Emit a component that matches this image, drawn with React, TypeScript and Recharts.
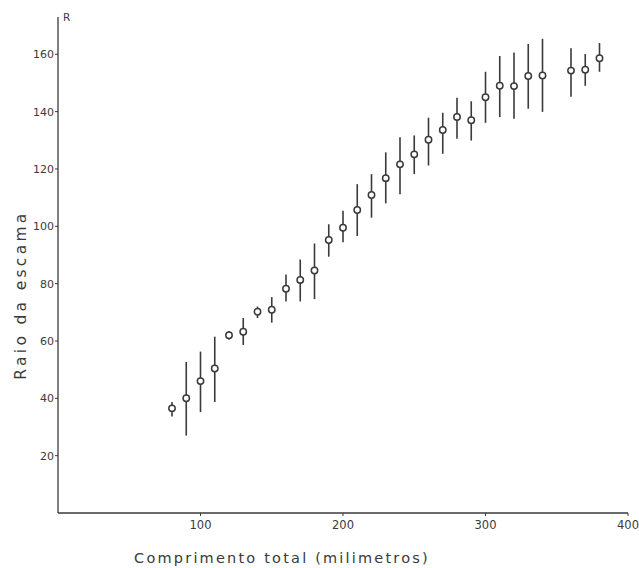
import React from 'react';
import { ComposedChart, Scatter, XAxis, YAxis, ErrorBar } from 'recharts';

const lengths = [80, 90, 100, 110, 120, 130, 140, 150, 160, 170, 180, 190, 200, 210, 220, 230, 240, 250, 260, 270, 280, 290, 300, 310, 320, 330, 340, 360, 370, 380];
const means = [36.5, 40, 46, 50.4, 62, 63.2, 70.2, 70.9, 78.2, 81.3, 84.6, 95.2, 99.5, 105.7, 110.9, 116.8, 121.6, 125.1, 130.2, 133.6, 138.1, 137, 145, 149, 148.9, 152.4, 152.6, 154.3, 154.6, 158.6];
const lows = [33.7, 27, 35.2, 38.7, 60.4, 58.6, 68, 66.4, 73.8, 73.8, 74.6, 89.4, 94.4, 96.6, 103, 108, 111.2, 118.2, 121.2, 125.3, 130.5, 129.9, 136.1, 138.1, 137.5, 141, 139.9, 145.2, 149, 153.9];
const highs = [38.7, 52.7, 56.3, 61.5, 63.5, 68, 72, 75.3, 83.2, 88.4, 94, 100.7, 105.4, 114.7, 118.2, 125.8, 131.1, 131.7, 137.9, 139.6, 144.8, 143.6, 153.9, 159.4, 160.6, 163.6, 165.4, 162.1, 160.1, 163.9];
const xTicks = [100, 200, 300, 400];
const yTicks = [20, 40, 60, 80, 100, 120, 140, 160];

const xTitle = 'Comprimento total (milimetros)';
const yTitle = 'Raio da escama';
const yUnit = 'R';

const data = lengths.map((x, i) => ({
  x,
  y: means[i],
  err: [means[i] - lows[i], highs[i] - means[i]],
}));

const FONT = '"DejaVu Sans", sans-serif';
const INK = '#3a3a3a';

const Dot = (props: any) => {
  const { cx, cy } = props;
  return <circle cx={cx} cy={cy} r={3.2} fill="#fff" stroke={INK} strokeWidth={1.5} />;
};

export default function App() {
  return (
    <div style={{ width: 639, height: 568 }}>
      <style>{'body{margin:0;overflow:hidden}'}</style>
      <ComposedChart
        width={639}
        height={568}
        data={data}
        margin={{ top: 17, right: 11, bottom: 25, left: 0 }}
        style={{ fontFamily: FONT }}
      >
        <XAxis
          dataKey="x"
          type="number"
          domain={[0, 400]}
          ticks={xTicks}
          tickSize={3}
          tickMargin={5}
          height={30}
          axisLine={{ stroke: INK, strokeWidth: 1.3 }}
          tickLine={{ stroke: INK }}
          tick={{ fill: INK, fontSize: 11.5, fontFamily: FONT }}
          label={{
            content: () => (
              <text
                x={282}
                y={563}
                textAnchor="middle"
                fill={INK}
                fontSize={14.5}
                fontFamily={FONT}
                letterSpacing={2.2}
              >
                {xTitle}
              </text>
            ),
          }}
        />
        <YAxis
          dataKey="y"
          type="number"
          domain={[0, 173]}
          ticks={yTicks}
          width={58}
          tickSize={3}
          tickMargin={1}
          axisLine={{ stroke: INK, strokeWidth: 1.3 }}
          tickLine={{ stroke: INK }}
          tick={{ fill: INK, fontSize: 11, fontFamily: FONT }}
          label={{
            content: () => (
              <g>
                <text
                  x={26}
                  y={295}
                  textAnchor="middle"
                  fill={INK}
                  fontSize={15.5}
                  fontFamily={FONT}
                  letterSpacing={3.3}
                  transform="rotate(-90 26 295)"
                >
                  {yTitle}
                </text>
                <text x={63} y={21} fill={INK} stroke="none" fontSize={10.5} fontFamily={FONT}>
                  {yUnit}
                </text>
              </g>
            ),
          }}
        />
        <Scatter dataKey="y" shape={Dot} isAnimationActive={false}>
          <ErrorBar dataKey="err" direction="y" width={0} stroke={INK} strokeWidth={1.6} isAnimationActive={false} />
        </Scatter>
      </ComposedChart>
    </div>
  );
}
